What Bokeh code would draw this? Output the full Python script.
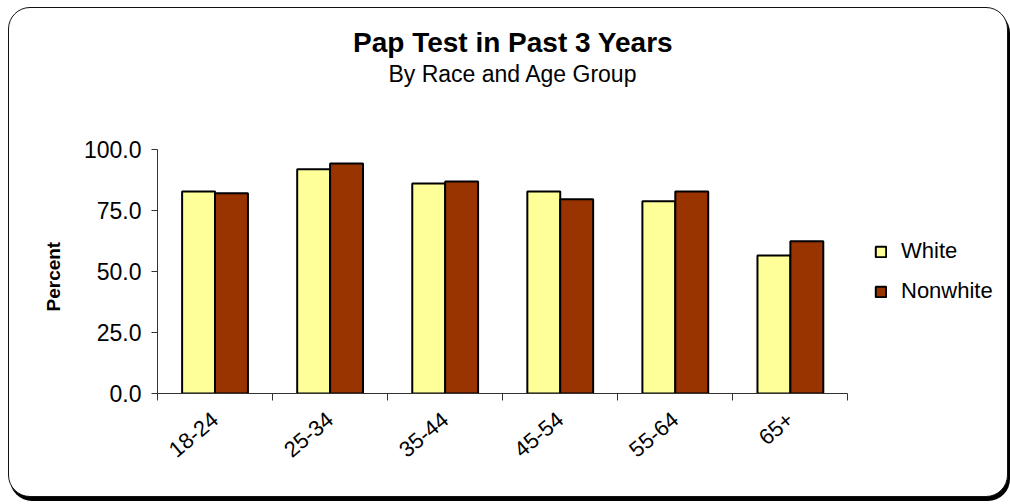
from bokeh.plotting import figure
from bokeh.models import (ColumnDataSource, Range1d, FixedTicker, NumeralTickFormatter,
                          Legend, LegendItem, Label, Title)
from bokeh.embed import file_html
from bokeh.resources import INLINE

ages = ["18-24", "25-34", "35-44", "45-54", "55-64", "65+"]
white = [82.8, 91.9, 86.1, 82.8, 78.8, 56.6]
nonwhite = [82.1, 94.3, 86.9, 79.6, 82.8, 62.4]
series = ["White", "Nonwhite"]
colors = ["#FFFF99", "#993300"]
y_ticks = [0, 25, 50, 75, 100]

n = len(ages)
centers = [i + 0.5 for i in range(n)]
bw = 0.286
src = ColumnDataSource(dict(center=centers, White=white, Nonwhite=nonwhite,
                            xw=[c - bw / 2 for c in centers], xn=[c + bw / 2 for c in centers]))

FONT = "Liberation Sans"
W, H = 1000, 490
# the frame is extended right and up (axes bounded) so that legend and titles sit inside it
p = figure(width=W, height=H, x_range=Range1d(0, n + 1.3), y_range=Range1d(0, 156.6),
           output_backend="svg", toolbar_location=None,
           min_border_left=148, min_border_right=12, min_border_top=3, min_border_bottom=105)
p.border_fill_color = None
p.background_fill_color = None
p.outline_line_color = None
p.grid.visible = False
p.styles = {"border": "1.5px solid #111", "border-radius": "22px", "margin": "7px 0 0 8px",
            "box-shadow": "2px 4px 0 #000", "background": "white"}

renderers = []
for s, c, xcol in zip(series, colors, ["xw", "xn"]):
    r = p.vbar(x=xcol, top=s, width=bw, source=src,
               fill_color=c, line_color="black", line_width=2)
    renderers.append(r)

# y axis
ya = p.yaxis[0]
ya.bounds = (y_ticks[0], y_ticks[-1])
ya.ticker = FixedTicker(ticks=y_ticks)
ya.formatter = NumeralTickFormatter(format="0.0")
ya.major_label_text_font = FONT
ya.major_label_text_font_size = "23px"
ya.major_label_text_color = "black"
ya.major_tick_in = 0
ya.major_tick_out = 6
ya.minor_tick_line_color = None
ya.axis_line_color = "#333333"
ya.major_tick_line_color = "#333333"
ya.major_label_standoff = 10

# y axis title, placed along the bounded part of the axis
p.add_layout(Title(text="Percent", text_font=FONT, text_font_style="bold", text_font_size="19px",
                   text_color="black", align="left", offset=82, standoff=34), "left")

# x axis: labels at category centres, ticks at category boundaries
xa = p.xaxis[0]
xa.bounds = (0, n)
xa.ticker = FixedTicker(ticks=centers, minor_ticks=list(range(n + 1)))
xa.major_label_overrides = {c: a for c, a in zip(centers, ages)}
xa.major_tick_line_color = None
xa.major_tick_in = 0
xa.major_tick_out = 7
xa.minor_tick_in = 0
xa.minor_tick_out = 7
xa.minor_tick_line_color = "#333333"
xa.axis_line_color = "#333333"
xa.major_label_orientation = 0.7
xa.major_label_text_font = FONT
xa.major_label_text_font_size = "22px"
xa.major_label_text_color = "black"
xa.major_label_standoff = 16

legend = Legend(items=[LegendItem(label=s, renderers=[r]) for s, r in zip(series, renderers)],
                location=(717, 89), border_line_color=None, background_fill_color=None,
                label_text_font=FONT, label_text_font_size="22px", label_text_color="black",
                glyph_width=13, glyph_height=13, spacing=14, label_standoff=14, padding=4)
p.add_layout(legend, "center")

p.add_layout(Label(x=3.09, y=143.9, text="Pap Test in Past 3 Years", text_font=FONT,
                   text_font_style="bold", text_font_size="28px", text_color="black",
                   text_align="center", text_baseline="middle"))
p.add_layout(Label(x=3.09, y=131.1, text="By Race and Age Group", text_font=FONT,
                   text_font_size="23px", text_color="black",
                   text_align="center", text_baseline="middle"))

open("out.html", "w").write(file_html(p, INLINE))
